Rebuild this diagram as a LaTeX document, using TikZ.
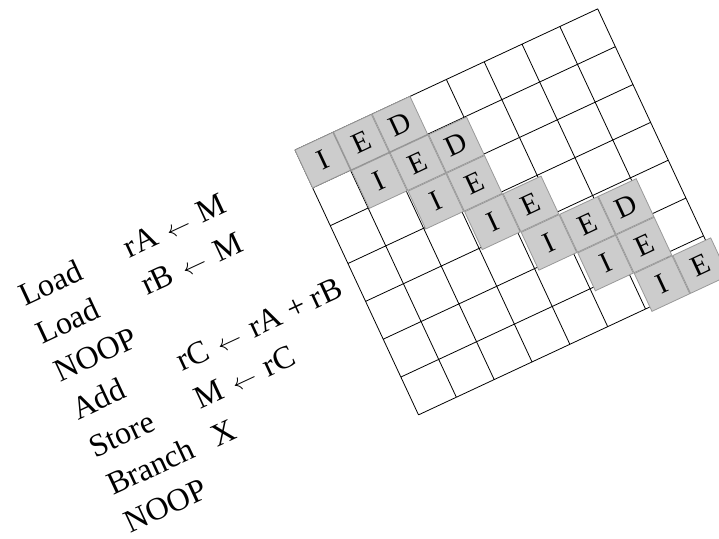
\documentclass[tikz,border=0pt]{standalone}
\usepackage{fontspec}
\setmainfont{Liberation Serif}
\usepackage{tikz}
\usetikzlibrary{positioning}

\newcommand{\loadarrow}{\hspace{0.1em} $\leftarrow$ \hspace{0.1em}}

\begin{document}
\begin{tikzpicture}[
  x=41.75pt, y=41.75pt,
  gridline/.style={draw=black, line width=0.8pt},
  stage/.style={rectangle, draw=black!40, line width=0.8pt, fill=black!20, minimum size=41.75pt, inner sep=0pt, font=\fontsize{29}{34}\selectfont},
  instr/.style={anchor=base west, inner sep=0pt, font=\fontsize{32}{38}\selectfont}
]
\useasboundingbox (0,0) rectangle (17.222,-12.910);
\begin{scope}[shift={(7.066,-3.593)}, rotate=25, transform shape]
\draw[gridline, step=41.75pt] (0,0) grid (8,-7);

% pipeline stages
\node[stage] (i1) at (0.5,-0.5) {I};
\node[stage, right=0pt of i1] (e1) {E};
\node[stage, right=0pt of e1] (d1) {D};
\node[stage, below=0pt of e1] (i2) {I};
\node[stage, right=0pt of i2] (e2) {E};
\node[stage, right=0pt of e2] (d2) {D};
\node[stage, below=0pt of e2] (i3) {I};
\node[stage, right=0pt of i3] (e3) {E};
\node[stage, below=0pt of e3] (i4) {I};
\node[stage, right=0pt of i4] (e4) {E};
\node[stage, below=0pt of e4] (i5) {I};
\node[stage, right=0pt of i5] (e5) {E};
\node[stage, right=0pt of e5] (d5) {D};
\node[stage, below=0pt of e5] (i6) {I};
\node[stage, right=0pt of i6] (e6) {E};
\node[stage, below=0pt of e6] (i7) {I};
\node[stage, right=0pt of i7] (e7) {E};

% instructions
\node[instr] (load1) at (-7.45,-0.67) {Load};
\node[instr] (load2) at (-7.45,-1.67) {Load};
\node[instr] (noop1) at (-7.45,-2.67) {NOOP};
\node[instr] (add)   at (-7.45,-3.67) {Add};
\node[instr] (store) at (-7.45,-4.67) {Store};
\node[instr] (branch) at (-7.45,-5.67) {Branch};
\node[instr] (noop2) at (-7.45,-6.67) {NOOP};

\node[instr] (argA) at (-4.69,-0.67) {rA\loadarrow M};
\node[instr] (argB) at (-4.69,-1.67) {rB\loadarrow M};
\node[instr] (argC) at (-4.69,-3.67) {rC\loadarrow rA + rB};
\node[instr] (argM) at (-4.69,-4.67) {M\loadarrow rC};
\node[instr] (argX) at (-4.69,-5.67) {X};
\end{scope}
\end{tikzpicture}
\end{document}
